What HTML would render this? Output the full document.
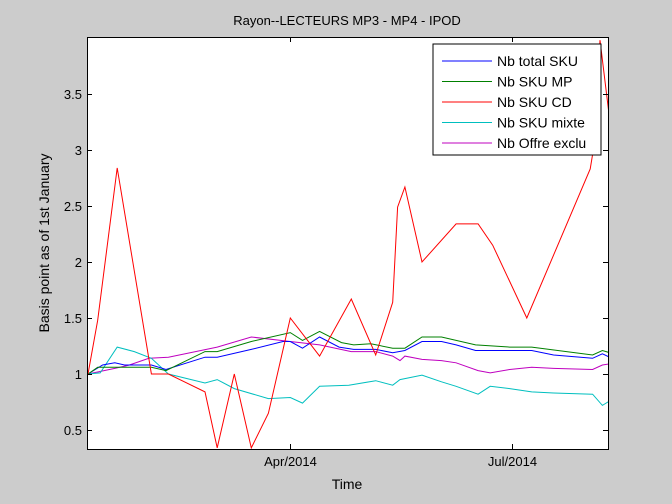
<!DOCTYPE html>
<html><head><meta charset="utf-8"><style>
html,body{margin:0;padding:0;background:#cccccc;overflow:hidden;width:672px;height:504px;}
svg{display:block;}
svg text{font-family:"Liberation Sans",Arial,sans-serif;}
</style></head><body>
<svg id="chart" width="672" height="504" viewBox="0 0 672 504" xmlns="http://www.w3.org/2000/svg">
<rect x="0" y="0" width="672" height="504" fill="#cccccc"/>
<rect x="87" y="37" width="521" height="412" fill="#ffffff"/>
<defs><clipPath id="clip"><rect x="87" y="37" width="521" height="412"/></clipPath></defs>
<g id="series" clip-path="url(#clip)"></g>
<g id="axes"></g>
<text x="347" y="25" font-size="13" text-anchor="middle" fill="#000">Rayon--LECTEURS MP3 - MP4 - IPOD</text>
<text x="347" y="489" font-size="14" text-anchor="middle" fill="#000">Time</text>
<text x="49" y="243" font-size="14" text-anchor="middle" fill="#000" transform="rotate(-90 49 243)">Basis point as of 1st January</text>
<g>
<rect x="433" y="44" width="168" height="111" fill="#fff" stroke="#000" stroke-width="1"/>
<g id="legend-entries"></g>
</g>
</svg>
<script>
// days relative to 1 Apr 2014
const xTickDays = [0, 91];
const xTickLabels = ["Apr/2014", "Jul/2014"];
const yTicks = [0.5, 1, 1.5, 2, 2.5, 3, 3.5];
const yTickLabels = ["0.5", "1", "1.5", "2", "2.5", "3", "3.5"];
const seriesNames = ["Nb total SKU", "Nb SKU MP", "Nb SKU CD", "Nb SKU mixte", "Nb Offre exclu"];
const seriesColors = ["#0000ff", "#008000", "#ff0000", "#00bfbf", "#bf00bf"];

const totalDays = [-83,-77,-72,-68,-57,-51,-35,-30,-16,-3,0,5,12,20,26,35,42,47,54,62,68,76,90,99,108,124,128,131];
const totalVals = [1.0,1.08,1.1,1.08,1.08,1.04,1.15,1.15,1.22,1.29,1.29,1.23,1.33,1.24,1.22,1.22,1.19,1.21,1.29,1.29,1.26,1.21,1.21,1.21,1.17,1.14,1.18,1.15];

const mpDays = [-83,-79,-57,-51,-35,-30,-16,0,5,12,21,26,33,42,47,54,62,76,90,99,124,128,131];
const mpVals = [1.0,1.06,1.06,1.03,1.2,1.2,1.29,1.37,1.3,1.38,1.28,1.26,1.27,1.23,1.23,1.33,1.33,1.26,1.24,1.24,1.17,1.21,1.19];

const cdDays = [-83,-79,-71,-57,-50,-35,-30,-23,-16,-9,0,12,25,35,42,44,47,54,68,77,83,97,123,124,127,131];
const cdVals = [1.0,1.48,2.84,1.0,1.0,0.84,0.34,1.0,0.34,0.65,1.5,1.16,1.67,1.17,1.64,2.49,2.67,2.0,2.34,2.34,2.15,1.5,2.83,2.96,3.98,3.27];

const mixteDays = [-83,-78,-71,-64,-57,-50,-35,-30,-23,-9,0,5,12,24,35,42,45,54,62,68,77,82,90,99,108,124,128,131];
const mixteVals = [1.0,1.01,1.24,1.2,1.14,1.0,0.92,0.95,0.87,0.78,0.79,0.74,0.89,0.9,0.94,0.9,0.95,0.99,0.93,0.89,0.82,0.89,0.87,0.84,0.83,0.82,0.72,0.76];

const exclDays = [-83,-72,-66,-58,-50,-30,-16,0,12,25,35,42,45,47,54,62,68,77,82,90,99,108,124,128,131];
const exclVals = [1.0,1.05,1.08,1.14,1.15,1.24,1.33,1.29,1.26,1.2,1.2,1.16,1.12,1.16,1.13,1.12,1.1,1.03,1.01,1.04,1.06,1.05,1.04,1.08,1.09];

const L=87,R=608,T=37,B=449;
const xMin=-83.4,xMax=130.3,yMin=1-(449-374)/112,yMax=1+(374-37)/112;
function xs(d){return L+(d-xMin)/(xMax-xMin)*(R-L);}
function ys(v){return B-(v-yMin)/(yMax-yMin)*(B-T);}
const NS="http://www.w3.org/2000/svg";
const sg=document.getElementById('series');
const allDays=[totalDays,mpDays,cdDays,mixteDays,exclDays];
const allVals=[totalVals,mpVals,cdVals,mixteVals,exclVals];
const keys=["total-sku","sku-mp","sku-cd","sku-mixte","offre-exclu"];
const order=[4,3,0,1,2];
order.forEach(i=>{
  const p=document.createElementNS(NS,'polyline');
  p.setAttribute('points',allDays[i].map((d,j)=>xs(d).toFixed(1)+','+ys(allVals[i][j]).toFixed(1)).join(' '));
  p.setAttribute('fill','none');p.setAttribute('stroke',seriesColors[i]);p.setAttribute('stroke-width','1');
  
  
  sg.appendChild(p);
});
const ax=document.getElementById('axes');
function line(x1,y1,x2,y2,name){
  const l=document.createElementNS(NS,'line');
  l.setAttribute('x1',x1);l.setAttribute('y1',y1);l.setAttribute('x2',x2);l.setAttribute('y2',y2);
  l.setAttribute('stroke','#000');l.setAttribute('stroke-width','1');
  
  
  ax.appendChild(l);
}
function text(x,y,s,anchor,name){
  const t=document.createElementNS(NS,'text');
  t.setAttribute('x',x);t.setAttribute('y',y);t.setAttribute('font-size','13');t.setAttribute('text-anchor',anchor);
  t.textContent=s;
  
  
  ax.appendChild(t);
}
const rect=document.createElementNS(NS,'rect');
rect.setAttribute('x',L+0.5);rect.setAttribute('y',T+0.5);rect.setAttribute('width',R-L);rect.setAttribute('height',B-T);
rect.setAttribute('fill','none');rect.setAttribute('stroke','#000');


ax.appendChild(rect);
yTicks.forEach((v,i)=>{
  const y=Math.round(ys(v))+0.5;
  line(L,y,L+5,y,'y-tick');
  line(R-5,y,R,y,'y-tick-right');
  text(L-5,y+4.5,yTickLabels[i],'end','y-tick-label');
});
xTickDays.forEach((d,i)=>{
  const x=Math.round(xs(d))+0.5;
  line(x,B,x,B-5,'x-tick');
  line(x,T,x,T+5,'x-tick-top');
  text(x,B+17,xTickLabels[i],'middle','x-tick-label');
});
const lg=document.getElementById('legend-entries');
seriesNames.forEach((n,i)=>{
  const y=61+i*20.5;
  const l=document.createElementNS(NS,'line');
  l.setAttribute('x1',442);l.setAttribute('x2',492);l.setAttribute('y1',y);l.setAttribute('y2',y);
  l.setAttribute('stroke',seriesColors[i]);
  
  
  lg.appendChild(l);
  const t=document.createElementNS(NS,'text');
  t.setAttribute('x',497);t.setAttribute('y',y+5);t.setAttribute('font-size','14');
  t.textContent=n;
  
  
  lg.appendChild(t);
});
</script>
</body></html>
